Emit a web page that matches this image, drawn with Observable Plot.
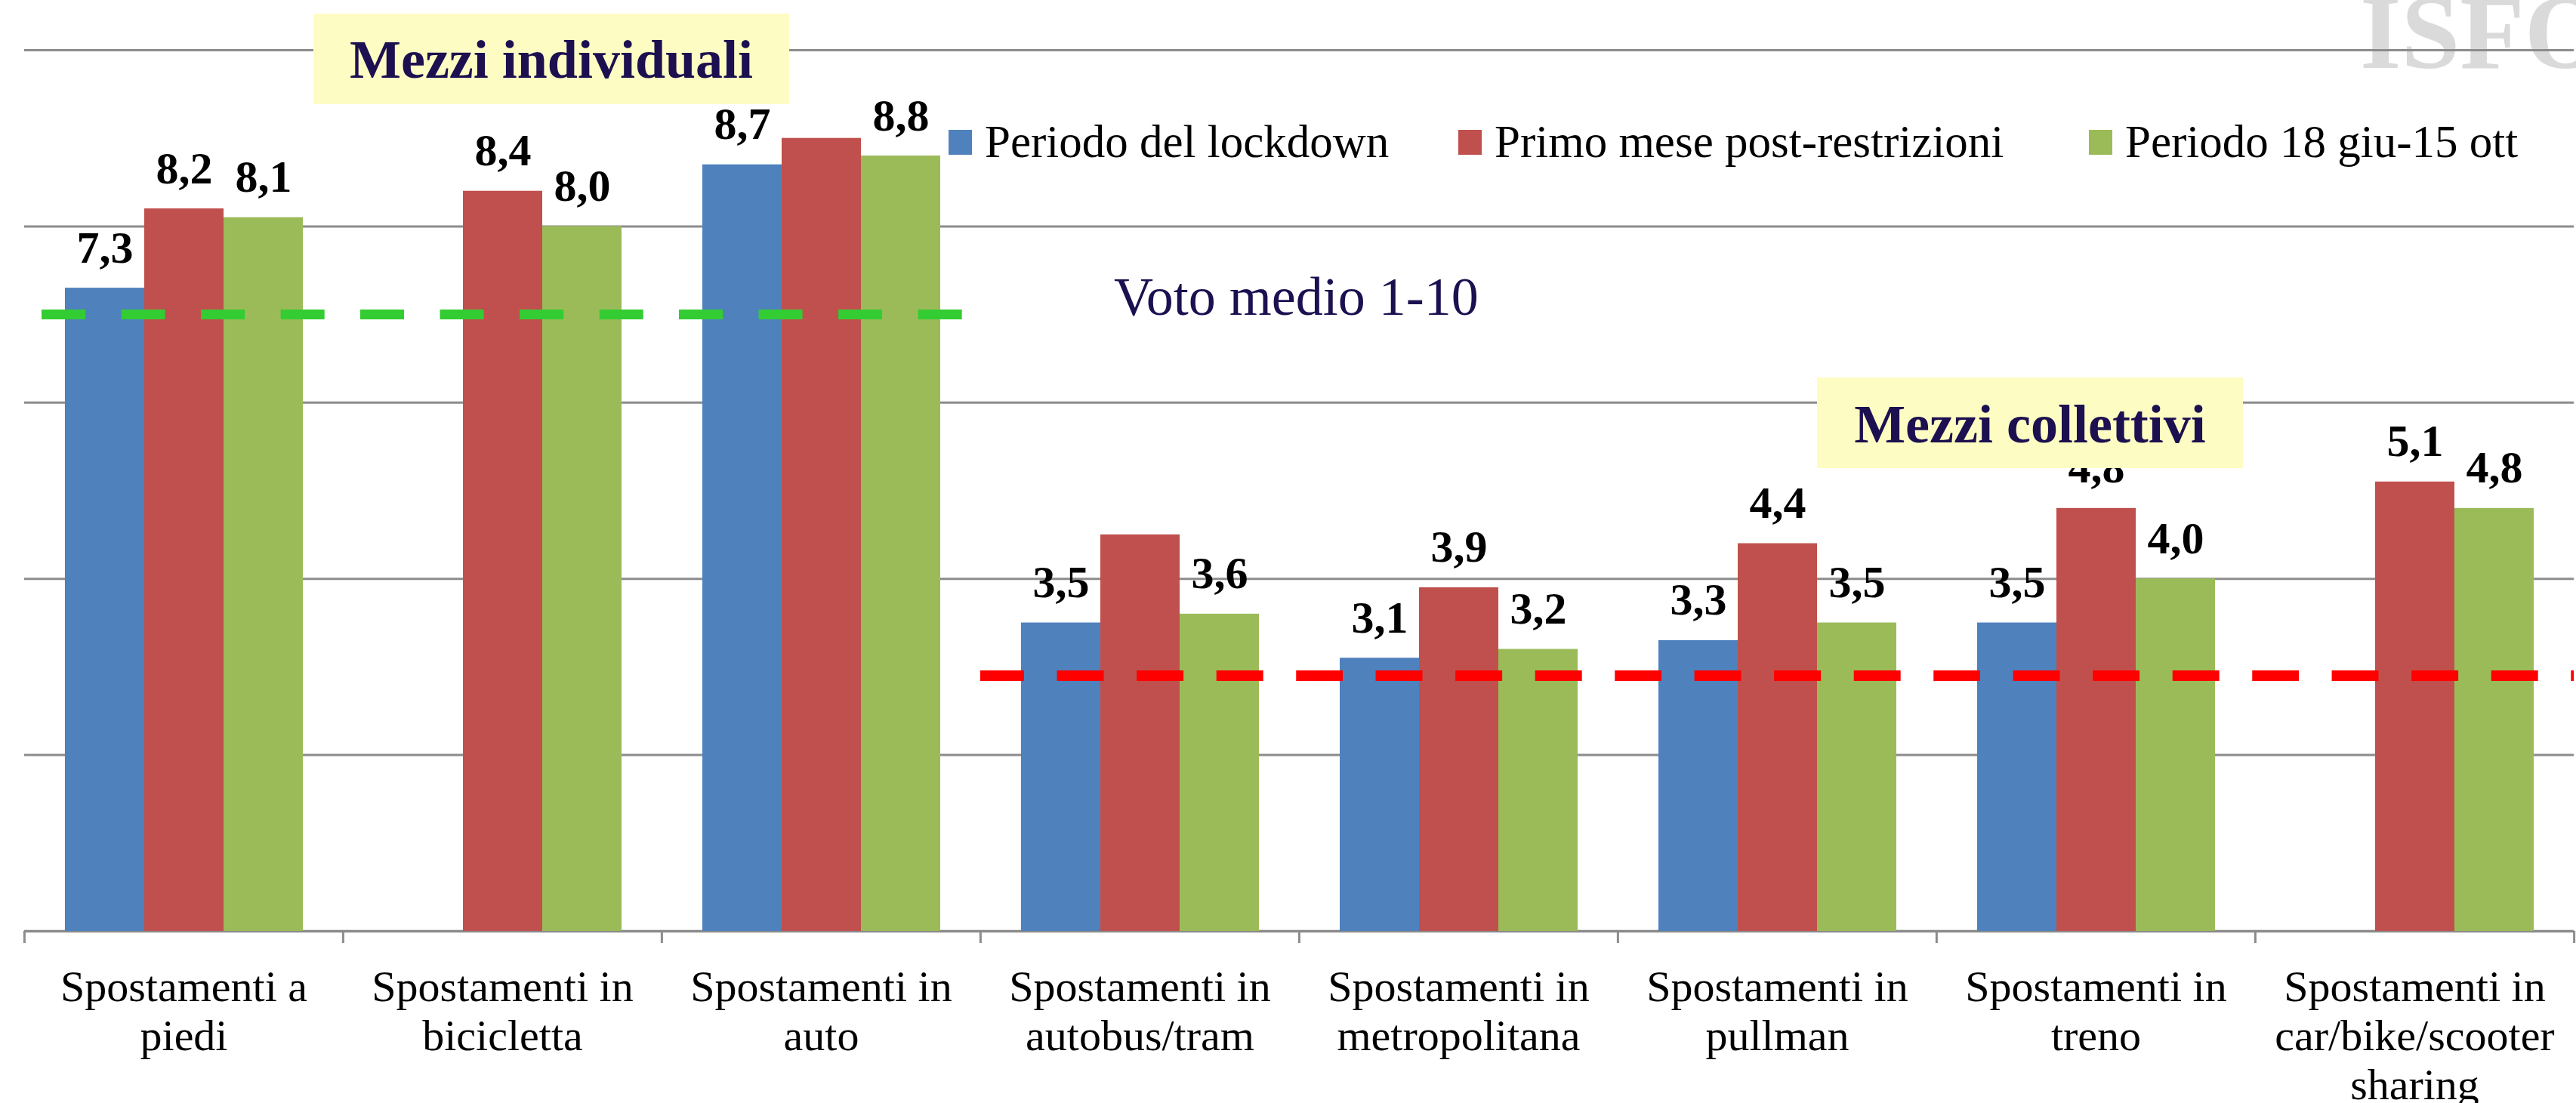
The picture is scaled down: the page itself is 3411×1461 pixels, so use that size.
<!DOCTYPE html>
<html><head><meta charset="utf-8">
<script src="https://cdn.jsdelivr.net/npm/d3@7"></script>
<script src="https://cdn.jsdelivr.net/npm/@observablehq/plot@0.6"></script>
<style>
html,body{margin:0;padding:0;background:#fff;}
#chart{position:relative;width:3411px;height:1461px;overflow:hidden;}
</style></head><body><div id="chart"></div>
<script>
const categories = ["Spostamenti a piedi","Spostamenti in bicicletta","Spostamenti in auto","Spostamenti in autobus/tram","Spostamenti in metropolitana","Spostamenti in pullman","Spostamenti in treno","Spostamenti in car/bike/scooter sharing"];
const tickLabels = ["Spostamenti a\npiedi","Spostamenti in\nbicicletta","Spostamenti in\nauto","Spostamenti in\nautobus/tram","Spostamenti in\nmetropolitana","Spostamenti in\npullman","Spostamenti in\ntreno","Spostamenti in\ncar/bike/scooter\nsharing"];
const series = ["Periodo del lockdown","Primo mese post-restrizioni","Periodo 18 giu-15 ott"];
const colors = ["#4f81bd","#c0504d","#9bbb59"];
const lockdown      = [7.3, null, 8.7, 3.5, 3.1, 3.3, 3.5, null];
const primoMese     = [8.2, 8.4, 9.0, 4.5, 3.9, 4.4, 4.8, 5.1];
const periodoGiuOtt = [8.1, 8.0, 8.8, 3.6, 3.2, 3.5, 4.0, 4.8];
const unlabeled = [["Spostamenti in auto","Primo mese post-restrizioni"],["Spostamenti in autobus/tram","Primo mese post-restrizioni"]];
const individualCategories = ["Spostamenti a piedi","Spostamenti in bicicletta","Spostamenti in auto"];
const collectiveCategories = ["Spostamenti in autobus/tram","Spostamenti in metropolitana","Spostamenti in pullman","Spostamenti in treno","Spostamenti in car/bike/scooter sharing"];
const mediaIndividuali = 7.0;
const mediaCollettivi = 2.9;
const yTicks = [2, 4, 6, 8, 10];

const seriesValues = [lockdown, primoMese, periodoGiuOtt];
const rows = [];
categories.forEach((c, i) => series.forEach((s, j) => {
  const v = seriesValues[j][i];
  if (v != null) rows.push({category: c, series: s, value: v});
}));
const labelRows = rows.filter(r => !unlabeled.some(([c, s]) => c === r.category && s === r.series));
const indRows = individualCategories.map(c => ({category: c, value: mediaIndividuali}));
const colRows = collectiveCategories.map(c => ({category: c, value: mediaCollettivi}));

const W = 3411, H = 1461;
const mL = 31, mR = 2, mT = 66, mB = 228;
const facetW = (W - mL - mR) / categories.length;
const period = facetW / 4;
const grid = "#8c8c8c";
const font = "'Liberation Serif', 'Times New Roman', serif";

const plot = Plot.plot({
  width: W, height: H,
  marginLeft: mL, marginRight: mR, marginTop: mT, marginBottom: mB,
  style: {background: "transparent", fontFamily: font, overflow: "visible"},
  fx: {domain: categories, padding: 0, label: null, axis: null},
  x: {domain: series, paddingInner: 0, paddingOuter: 0.5, axis: null},
  y: {domain: [0, 10], axis: null},
  color: {domain: series, range: colors},
  marks: [
    Plot.ruleY(yTicks, {stroke: grid, strokeWidth: 3}),
    Plot.ruleY([0], {stroke: grid, strokeWidth: 3.5}),
    Plot.barY(rows, {fx: "category", x: "series", y: "value", fill: "series"}),
    Plot.ruleY(indRows, {fx: "category", y: "value", stroke: "#33cc33", strokeWidth: 13,
      strokeDasharray: `58,${period - 58}`, strokeDashoffset: period - 23}),
    Plot.ruleY(colRows, {fx: "category", y: "value", stroke: "#ff0000", strokeWidth: 14,
      strokeDasharray: `62,${period - 62}`, strokeDashoffset: 4}),
    Plot.text(labelRows, {fx: "category", x: "series", y: "value",
      text: d => d.value.toFixed(1).replace(".", ","), dy: -34, lineAnchor: "bottom",
      fontSize: 60, fontWeight: "bold", fill: "#000"}),
    Plot.axisFx({anchor: "bottom", tickSize: 0, tickPadding: 46, fontSize: 58, lineHeight: 1.12,
      tickFormat: d => tickLabels[categories.indexOf(d)], label: null, fill: "#000"}),
    Plot.axisFx({anchor: "bottom", tickSize: 16, text: null, dx: -facetW / 2, stroke: grid, strokeWidth: 3, label: null}),
    Plot.axisFx({anchor: "bottom", ticks: [categories[categories.length - 1]], tickSize: 16, text: null, dx: facetW / 2, stroke: grid, strokeWidth: 3, label: null})
  ]
});

document.getElementById("chart").appendChild(plot);
const svg = d3.select(plot);

// watermark (behind everything)
svg.insert("text", ":first-child")
  .attr("x", 3125).attr("y", 90).attr("text-anchor", "start")
  .attr("font-family", font).attr("font-weight", "bold").attr("font-size", 140)
  .attr("fill", "#dadada").text("ISFORT");

const ann = svg.append("g");
const navy = "#1c1050";
function box(x, y, w, h, cx, baseline, label) {
  ann.append("rect").attr("x", x).attr("y", y).attr("width", w).attr("height", h).attr("fill", "#fdfdc3");
  ann.append("text").attr("x", cx).attr("y", baseline).attr("text-anchor", "middle")
    .attr("font-family", font).attr("font-weight", "bold").attr("font-size", 72)
    .attr("fill", navy).text(label);
}
box(415, 18, 630, 120, 730, 103, "Mezzi individuali");
box(2406, 500, 564, 120, 2688, 586, "Mezzi collettivi");

ann.append("text").attr("x", 1475).attr("y", 417).attr("text-anchor", "start")
  .attr("font-family", font).attr("font-size", 72).attr("fill", navy).text("Voto medio 1-10");

const legendX = [1256, 1931, 2766];
series.forEach((s, i) => {
  ann.append("rect").attr("x", legendX[i]).attr("y", 172).attr("width", 31).attr("height", 33).attr("fill", colors[i]);
  ann.append("text").attr("x", legendX[i] + 48).attr("y", 208).attr("text-anchor", "start")
    .attr("font-family", font).attr("font-size", 61).attr("fill", "#000").text(s);
});
</script></body></html>
